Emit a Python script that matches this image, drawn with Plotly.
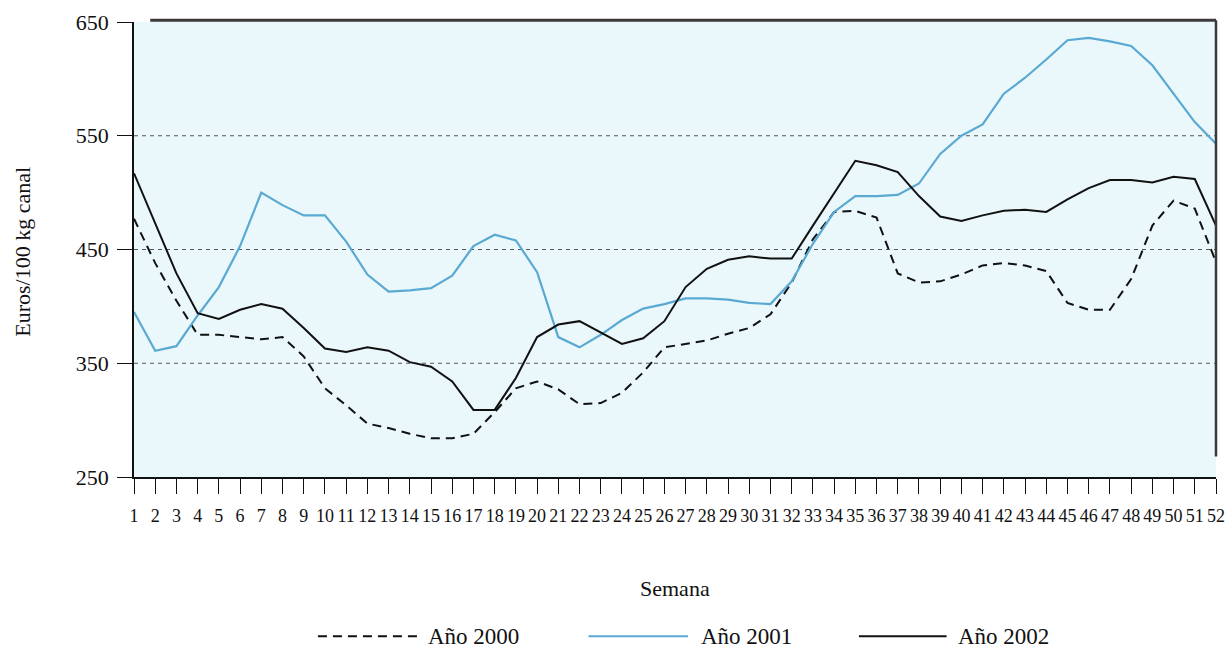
import plotly.graph_objects as go

weeks = list(range(1, 53))
week_labels = [str(w) for w in weeks]

y2000 = [477, 438, 405, 375, 375, 373, 371, 373, 356, 328, 313, 297, 293, 288, 284, 284,
         288, 307, 328, 334, 327, 314, 315, 324, 342, 364, 367, 370, 376, 381, 393, 421,
         459, 483, 484, 478, 429, 421, 422, 428, 436, 438, 436, 431, 403, 397, 397, 424,
         471, 493, 486, 439]
y2001 = [395, 361, 365, 392, 417, 453, 500, 489, 480, 480, 457, 428, 413, 414, 416, 427,
         453, 463, 458, 430, 373, 364, 375, 388, 398, 402, 407, 407, 406, 403, 402, 422,
         455, 483, 497, 497, 498, 508, 534, 550, 560, 587, 601, 617, 634, 636, 633, 629,
         612, 587, 562, 543]
y2002 = [517, 473, 429, 394, 389, 397, 402, 398, 381, 363, 360, 364, 361, 351, 347, 334,
         309, 309, 337, 373, 384, 387, 377, 367, 372, 387, 417, 433, 441, 444, 442, 442,
         471, 500, 528, 524, 518, 497, 479, 475, 480, 484, 485, 483, 494, 504, 511, 511,
         509, 514, 512, 471]

series_names = ["Año 2000", "Año 2001", "Año 2002"]
y_ticks = [250, 350, 450, 550, 650]
grid_levels = [350, 450, 550]

FONT = "Liberation Serif, Times New Roman, serif"
BLUE = "#5aa9d3"
styles = [dict(color="#111111", width=2, dash="9px,6px"),
          dict(color=BLUE, width=2.2),
          dict(color="#111111", width=2)]

fig = go.Figure()
for name, ys, st in zip(series_names, [y2000, y2001, y2002], styles):
    fig.add_trace(go.Scatter(x=weeks, y=ys, mode="lines", name=name, line=st,
                             showlegend=False))

shapes = []
for g in grid_levels:
    shapes.append(dict(type="line", xref="paper", x0=0, x1=1, yref="y", y0=g, y1=g,
                       line=dict(color="#555555", width=1, dash="4px,4px"), layer="below"))
shapes.append(dict(type="line", xref="paper", yref="paper", x0=0.015, x1=1, y0=1.004, y1=1.004,
                   line=dict(color="#3a3a3a", width=3)))
shapes.append(dict(type="line", xref="paper", yref="paper", x0=1, x1=1, y0=1.004, y1=0.045,
                   line=dict(color="#3a3a3a", width=2.5)))

leg_y = -0.350
leg_items = [(0.170, 0.262, 0.270), (0.420, 0.512, 0.522), (0.670, 0.751, 0.760)]
annotations = []
for (x0, x1, xt), name, st in zip(leg_items, series_names, styles):
    shapes.append(dict(type="line", xref="paper", yref="paper", x0=x0, x1=x1, y0=leg_y, y1=leg_y,
                       line=dict(color=st["color"], width=st["width"], dash=st.get("dash", "solid"))))
    annotations.append(dict(text=name, xref="paper", yref="paper", x=xt, y=leg_y,
                            xanchor="left", yanchor="middle", showarrow=False,
                            font=dict(family=FONT, size=23, color="#111111")))

annotations.append(dict(text="Semana", xref="paper", yref="paper", x=0.500, y=-0.245,
                        xanchor="center", yanchor="middle", showarrow=False,
                        font=dict(family=FONT, size=22, color="#111111")))
annotations.append(dict(text="Euros/100 kg canal", xref="paper", yref="paper", x=-0.1026, y=0.495,
                        xanchor="center", yanchor="middle", showarrow=False, textangle=-90,
                        font=dict(family=FONT, size=22, color="#111111")))

fig.update_layout(
    width=1228, height=649,
    margin=dict(l=134, r=12, t=22, b=172, autoexpand=False),
    paper_bgcolor="white",
    plot_bgcolor="#eaf8fb",
    font=dict(family=FONT, color="#111111"),
    shapes=shapes,
    annotations=annotations,
    showlegend=False,
)
fig.update_xaxes(range=[1, 52], tickmode="array", tickvals=weeks, ticktext=week_labels,
                 ticks="outside", ticklen=15, tickwidth=1.2, tickcolor="#111111",
                 showline=True, linecolor="#111111", linewidth=1.5, showgrid=False,
                 zeroline=False, tickangle=0, ticklabelstandoff=7, automargin=False,
                 tickfont=dict(family=FONT, size=18, color="#111111"))
fig.update_yaxes(range=[250, 650], tickmode="array", tickvals=y_ticks,
                 ticks="outside", ticklen=15, tickwidth=1.2, tickcolor="#111111",
                 showline=True, linecolor="#111111", linewidth=1.5, showgrid=False,
                 zeroline=False, ticklabelstandoff=4, automargin=False,
                 tickfont=dict(family=FONT, size=22, color="#111111"))

fig.write_html("out.html", config={"displayModeBar": False},
               post_script="document.body.style.margin='0';document.body.style.overflow='hidden';")
